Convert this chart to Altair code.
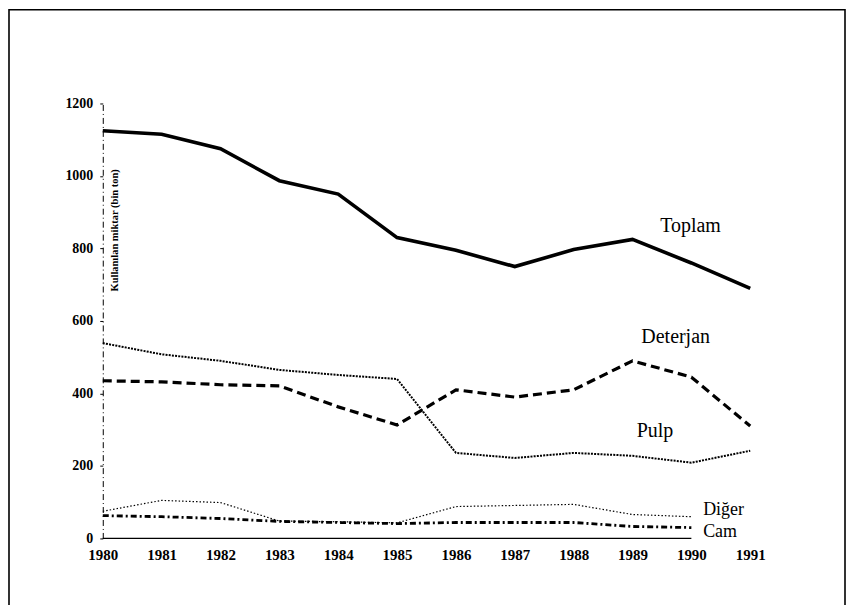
import altair as alt
import pandas as pd

years = [1980, 1981, 1982, 1983, 1984, 1985, 1986, 1987, 1988, 1989, 1990, 1991]
toplam = [1125, 1115, 1075, 987, 950, 830, 795, 750, 797, 825, 760, 690]
deterjan = [435, 432, 424, 421, 363, 313, 410, 390, 410, 490, 445, 310]
pulp = [539, 508, 490, 465, 451, 440, 236, 222, 236, 228, 209, 242]
diger = [75, 105, 99, 48, 46, 43, 88, 91, 94, 66, 60]
cam = [63, 60, 55, 47, 44, 41, 44, 44, 44, 33, 30]

label_names = ["Toplam", "Deterjan", "Pulp", "Diğer", "Cam"]
label_x = [1989.47, 1989.15, 1989.07, 1990.2, 1990.2]
label_y = [861, 556, 297, 78, 17]
label_size = [20, 20, 20, 18, 18]

y_title = "Kullanılan miktar (bin ton)"

rows = []
for name, vals in [("Toplam", toplam), ("Deterjan", deterjan), ("Pulp", pulp),
                   ("Diğer", diger), ("Cam", cam)]:
    for yr, v in zip(years, vals):
        rows.append({"year": yr, "value": v, "series": name})
df = pd.DataFrame(rows)

styles = {
    "Toplam": dict(strokeWidth=3.6),
    "Deterjan": dict(strokeWidth=3.2, strokeDash=[9, 5]),
    "Pulp": dict(strokeWidth=2.0, strokeDash=[2, 1.2]),
    "Diğer": dict(strokeWidth=1.2, strokeDash=[1.5, 2]),
    "Cam": dict(strokeWidth=2.8, strokeDash=[6, 3, 2, 3]),
}

xscale = alt.Scale(domain=[1980, 1991], nice=False, zero=False)
yscale = alt.Scale(domain=[0, 1200], nice=False)

base = alt.Chart(df)

layers = []
first = True
for name, st in styles.items():
    if first:
        x_enc = alt.X("year:Q", scale=xscale, title=None,
                      axis=alt.Axis(values=years, format="d", domain=False, ticks=False,
                                    grid=False, labelFont="Liberation Serif",
                                    labelFontSize=15, labelColor="black",
                                    labelPadding=9, labelFontWeight="bold",
                                    labelFlush=False))
        y_enc = alt.Y("value:Q", scale=yscale, title=None,
                      axis=alt.Axis(values=[0, 200, 400, 600, 800, 1000, 1200],
                                    format="d",
                                    grid=False, domainDash=[6, 3, 1, 3],
                                    domainColor="black", domainWidth=1,
                                    tickColor="black", tickSize=3,
                                    labelFont="Liberation Serif", labelFontSize=14,
                                    labelColor="black", labelPadding=7,
                                    labelFontWeight="bold", labelFlush=False))
        first = False
    else:
        x_enc = alt.X("year:Q", scale=xscale)
        y_enc = alt.Y("value:Q", scale=yscale)
    layers.append(
        base.transform_filter(alt.datum.series == name)
        .mark_line(color="black", **st)
        .encode(x=x_enc, y=y_enc)
    )

baseline = alt.Chart(pd.DataFrame({"x": [1980], "x2": [1990], "y": [0]})).mark_rule(
    color="black", strokeWidth=1.2
).encode(x=alt.X("x:Q", scale=xscale), x2="x2:Q", y=alt.Y("y:Q", scale=yscale))

labels = alt.Chart(pd.DataFrame({"name": label_names, "x": label_x, "y": label_y,
                                 "s": label_size})).mark_text(
    font="Liberation Serif", color="black", align="left", baseline="middle"
).encode(x=alt.X("x:Q", scale=xscale), y=alt.Y("y:Q", scale=yscale), text="name:N",
         size=alt.Size("s:Q", scale=None, legend=None))

ytitle = alt.Chart(pd.DataFrame({"t": [y_title], "x": [1980.2], "y": [850]})).mark_text(
    font="Liberation Serif", fontSize=10.5, fontWeight="bold", color="black",
    angle=270, align="center", baseline="middle"
).encode(x=alt.X("x:Q", scale=xscale), y=alt.Y("y:Q", scale=yscale), text="t:N")

frame = alt.Chart(pd.DataFrame({"a": [0]})).mark_rect(
    fill=None, stroke="black", strokeWidth=1.6
).encode(x=alt.value(-94), x2=alt.value(744), y=alt.value(-94), y2=alt.value(560))

chart = alt.layer(frame, *layers, baseline, labels, ytitle).properties(
    width=649, height=436,
    padding={"left": 95, "top": 95, "right": 96, "bottom": 66},
    autosize=alt.AutoSizeParams(type="none"),
    background="white",
).configure_view(stroke=None)

chart.save("out.html", embed_options={"renderer": "svg", "actions": False})
